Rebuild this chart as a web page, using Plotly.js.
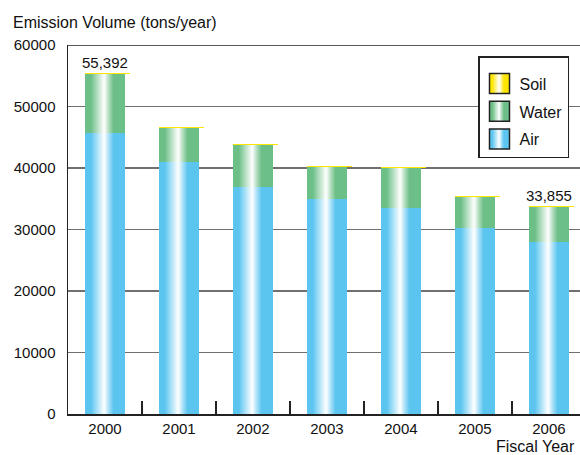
<!DOCTYPE html>
<html>
<head>
<meta charset="utf-8">
<script src="https://cdn.plot.ly/plotly-3.0.1.min.js"></script>
<style>
  html, body { margin: 0; padding: 0; background: #fff; }
  #chart { width: 580px; height: 455px; }
</style>
</head>
<body>
<div id="chart"></div>
<script>
// Emissions by medium, fiscal years 2000-2006 (tons/year)
const years = ['2000', '2001', '2002', '2003', '2004', '2005', '2006'];
const air   = [45700, 41000, 36900, 34900, 33450, 30250, 28000];
const water = [9542, 5550, 6800, 5300, 6550, 5050, 5705];
const soil  = [150, 150, 150, 100, 100, 100, 150];
const seriesNames = ['Air', 'Water', 'Soil'];
const labelledYears = ['2000', '2006'];

const totals = years.map((_, i) => air[i] + water[i] + soil[i]);
const soilBase = years.map((_, i) => air[i] + water[i]);

const FONT = 'Liberation Sans, Arial, Helvetica, sans-serif';
const BAR_W = 0.53;

const traces = [
  { type: 'bar', name: seriesNames[0], x: years, y: air, width: BAR_W,
    marker: { color: '#5bc5f0', line: { width: 0 } }, legendrank: 3, legendgroup: 'g3' },
  { type: 'bar', name: seriesNames[1], x: years, y: water, width: BAR_W,
    marker: { color: '#6cbf87', line: { width: 0 } }, legendrank: 2, legendgroup: 'g2' },
  { type: 'bar', name: seriesNames[2], x: years, y: soil, base: soilBase,
    width: 0.6, offset: -BAR_W / 2,
    marker: { color: '#ffe600', line: { width: 0 } }, legendrank: 1, legendgroup: 'g1' }
];

// value labels above the labelled bars (category index positions)
const annotations = labelledYears.map(yr => {
  const i = years.indexOf(yr);
  return {
    x: i, y: totals[i], xref: 'x', yref: 'y',
    text: totals[i].toLocaleString('en-US'),
    showarrow: false, yanchor: 'bottom', yshift: 0,
    font: { family: FONT, size: 15, color: '#111' }
  };
});

annotations.push({
  xref: 'paper', yref: 'paper', x: -68 / 512, y: 1 + 22 / 369,
  xanchor: 'left', yanchor: 'middle', xshift: 11,
  text: 'Emission Volume (tons/year)', showarrow: false,
  font: { family: FONT, size: 16, color: '#111' }
});
annotations.push({
  xref: 'paper', yref: 'paper', x: (494 - 68) / 512, y: -32 / 369,
  xanchor: 'left', yanchor: 'middle',
  text: 'Fiscal Year', showarrow: false,
  font: { family: FONT, size: 16, color: '#111' }
});

const layout = {
  width: 580, height: 455,
  margin: { l: 68, r: 0, t: 45, b: 41, pad: 0 },
  paper_bgcolor: '#fff', plot_bgcolor: '#fff',
  barmode: 'stack',
  font: { family: FONT, size: 15, color: '#111' },
  showlegend: true,
  legend: {
    x: (478 - 68) / 512, y: (414 - 56) / 369, xanchor: 'left', yanchor: 'top',
    bgcolor: '#fff', bordercolor: '#222', borderwidth: 1.5,
    traceorder: 'grouped', tracegroupgap: 4,
    title: { text: '&nbsp;', font: { family: FONT, size: 7 } },
    font: { family: FONT, size: 16, color: '#111' },
    itemwidth: 30
  },
  xaxis: {
    type: 'category', range: [-0.5, 6.42],
    showline: true, linecolor: '#222', linewidth: 1.5,
    ticks: 'inside', tickson: 'boundaries', ticklen: 13, tickwidth: 1.5, tickcolor: '#222',
    tickfont: { family: FONT, size: 15, color: '#111' },
    showgrid: false, zeroline: false, fixedrange: true
  },
  yaxis: {
    range: [0, 60000], dtick: 10000, tickformat: 'd',
    showline: true, linecolor: '#222', linewidth: 1.5, mirror: false,
    ticks: '', ticklabelstandoff: 8,
    tickfont: { family: FONT, size: 15, color: '#111' },
    showgrid: true, gridcolor: '#707070', gridwidth: 1.8,
    zeroline: false, fixedrange: true
  },
  shapes: [{
    type: 'line', xref: 'paper', yref: 'y', x0: 0, x1: 1, y0: 60000, y1: 60000,
    line: { color: '#222', width: 1.5 }, layer: 'above'
  }],
  annotations: annotations
};

const gd = document.getElementById('chart');

function addGradient(defs, id, color, light) {
  const ns = 'http://www.w3.org/2000/svg';
  const g = document.createElementNS(ns, 'linearGradient');
  g.setAttribute('id', id);
  g.setAttribute('x1', '0'); g.setAttribute('x2', '1');
  g.setAttribute('y1', '0'); g.setAttribute('y2', '0');
  const stops = [[0, color], [0.14, color], [0.48, '#ffffff'], [0.6, light], [0.72, color], [1, color]];
  stops.forEach(([o, c]) => {
    const s = document.createElementNS(ns, 'stop');
    s.setAttribute('offset', o);
    s.setAttribute('stop-color', c);
    g.appendChild(s);
  });
  defs.appendChild(g);
}

Plotly.newPlot(gd, traces, layout, { staticPlot: true }).then(() => {
  const svg = gd.querySelector('svg.main-svg');
  let defs = svg.querySelector('defs');
  if (!defs) {
    defs = document.createElementNS('http://www.w3.org/2000/svg', 'defs');
    svg.insertBefore(defs, svg.firstChild);
  }
  const grads = ['gradAir', 'gradWater', 'gradSoil'];
  addGradient(defs, grads[0], '#5bc5f0', '#a8e0f8');
  addGradient(defs, grads[1], '#6cbf87', '#b0dcbc');
  addGradient(defs, grads[2], '#ffe600', '#fff38a');

  // bar fills
  gd.querySelectorAll('.barlayer .trace').forEach((t, i) => {
    if (i < 2) {
      t.querySelectorAll('path').forEach(p => { p.style.fill = 'url(#' + grads[i] + ')'; });
    }
  });

  // legend swatches: larger, outlined, same shading as the bars
  gd.querySelectorAll('.legend .traces').forEach(tr => {
    const name = tr.querySelector('.legendtext').textContent;
    const idx = seriesNames.indexOf(name);
    tr.querySelectorAll('.legendpoints path').forEach(p => {
      p.setAttribute('d', 'M10,10H-10V-10H10Z');
      p.style.fill = 'url(#' + grads[idx] + ')';
      p.style.stroke = '#222';
      p.style.strokeWidth = '1.5px';
    });
  });
});
</script>
</body>
</html>
